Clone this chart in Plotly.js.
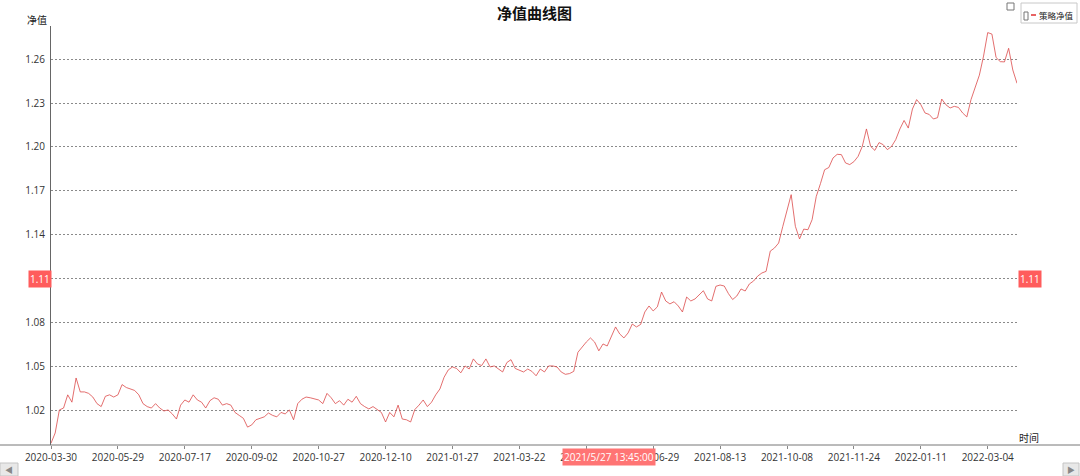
<!DOCTYPE html>
<html><head><meta charset="utf-8">
<script src="https://cdn.plot.ly/plotly-3.0.1.min.js"></script>
<style>html,body{margin:0;padding:0;background:#fff;}#chart{width:1080px;height:476px;}</style>
</head><body><div id="chart"></div>
<script>
const chartTitle = '净值曲线图';
const seriesName = '策略净值';
const yAxisName = '净值';
const xAxisName = '时间';
const navValues = [
  0.998, 1.005, 1.0207, 1.022, 1.031, 1.026, 1.0425, 1.033, 1.033, 1.032, 1.0295, 1.025, 1.023, 1.030, 1.031, 1.0295,
  1.031, 1.038, 1.036, 1.035, 1.034, 1.031, 1.025, 1.023, 1.022, 1.025, 1.022, 1.020, 1.0207, 1.018, 1.0145, 1.024,
  1.0275, 1.026, 1.031, 1.0275, 1.026, 1.022, 1.027, 1.029, 1.028, 1.024, 1.025, 1.024, 1.019, 1.017, 1.015, 1.009,
  1.0105, 1.014, 1.015, 1.016, 1.0186, 1.017, 1.016, 1.019, 1.018, 1.0207, 1.014, 1.025, 1.028, 1.0295, 1.029, 1.028,
  1.0275, 1.025, 1.032, 1.029, 1.025, 1.027, 1.024, 1.028, 1.026, 1.030, 1.025, 1.023, 1.0214, 1.023, 1.021, 1.019,
  1.0125, 1.019, 1.016, 1.024, 1.0145, 1.014, 1.0125, 1.021, 1.024, 1.0275, 1.023, 1.026, 1.031, 1.035, 1.043, 1.048,
  1.050, 1.049, 1.046, 1.0507, 1.0486, 1.0555, 1.052, 1.051, 1.0555, 1.050, 1.0507, 1.0486, 1.0466, 1.053, 1.055, 1.049,
  1.048, 1.0466, 1.0486, 1.047, 1.044, 1.0486, 1.0466, 1.0507, 1.0507, 1.050, 1.0466, 1.045, 1.0455, 1.047, 1.060, 1.0636,
  1.067, 1.0698, 1.067, 1.061, 1.0657, 1.0643, 1.0705, 1.0773, 1.0725, 1.0698, 1.0732, 1.0793, 1.0773, 1.079, 1.0875, 1.0916,
  1.0882, 1.091, 1.1011, 1.095, 1.093, 1.0945, 1.0916, 1.0875, 1.0977, 1.095, 1.0964, 1.099, 1.102, 1.0964, 1.095, 1.105,
  1.1059, 1.1052, 1.100, 1.096, 1.0984, 1.1032, 1.1018, 1.1066, 1.1086, 1.112, 1.1141, 1.1152, 1.129, 1.1311, 1.1345, 1.1459,
  1.1572, 1.1675, 1.1459, 1.1373, 1.144, 1.1436, 1.1504, 1.1663, 1.175, 1.1845, 1.186, 1.1925, 1.195, 1.1948, 1.1891, 1.188,
  1.190, 1.1936, 1.2004, 1.2123, 1.2004, 1.1977, 1.203, 1.2016, 1.1982, 1.2004, 1.205, 1.2123, 1.2181, 1.2129, 1.2259, 1.2323,
  1.2289, 1.2232, 1.2222, 1.2191, 1.220, 1.2327, 1.2288, 1.2266, 1.2277, 1.227, 1.2232, 1.2205, 1.2323, 1.240, 1.249, 1.262,
  1.278, 1.277, 1.261, 1.2582, 1.258, 1.2673, 1.2525, 1.2434
];
const tickDates = ['2020-03-30','2020-05-29','2020-07-17','2020-09-02','2020-10-27','2020-12-10','2021-01-27','2021-03-22','2021-05-11','2021-06-29','2021-08-13','2021-10-08','2021-11-24','2022-01-11','2022-03-04'];
const pointsPerTick = 16;
const yTicks = [1.02, 1.05, 1.08, 1.11, 1.14, 1.17, 1.20, 1.23, 1.26];
const crossValue = 1.11;
const crossIndex = 133.4;
const crossTimeLabel = '2021/5/27 13:45:00';

const W = 1080, H = 476, L = 51, R = 1017, T = 26, B = 445;
const px = v => (v - L) / (R - L);
const py = v => (B - v) / (B - T);

const xIdx = navValues.map((_, i) => i);
const tickIdx = tickDates.map((_, i) => i * pointsPerTick);
const font = "'Open Sans','Noto Sans CJK SC',sans-serif";
const cjk = "'Noto Sans CJK SC','Noto Sans',sans-serif";
const red = '#ff5c5c';

const trace = {
  x: xIdx, y: navValues, type: 'scatter', mode: 'lines', name: seriesName,
  line: {color: '#dc4a4a', width: 0.8}, hoverinfo: 'skip'
};

const shapes = [
  {type:'line', xref:'paper', yref:'paper', x0: px(0), x1: px(W), y0: 0, y1: 0, line:{color:'#777', width:1}},
  {type:'rect', xref:'paper', yref:'paper', x0: px(1021), x1: px(1077), y0: py(3), y1: py(23), line:{color:'#c8c8c8', width:1}, fillcolor:'#fff'},
  {type:'rect', xref:'paper', yref:'paper', x0: px(1024), x1: px(1028), y0: py(12), y1: py(20), line:{color:'#777', width:1}, fillcolor:'#fff'},
  {type:'line', xref:'paper', yref:'paper', x0: px(1031), x1: px(1036), y0: py(15), y1: py(15), line:{color:'#e03030', width:1.5}},
  {type:'rect', xref:'paper', yref:'paper', x0: px(1007), x1: px(1014), y0: py(3), y1: py(10), line:{color:'#777', width:1}, fillcolor:'#fff'},
  {type:'rect', xref:'paper', yref:'paper', x0: px(0), x1: px(18), y0: py(463), y1: py(476), line:{color:'#c4c4c4', width:1}, fillcolor:'#e8e8e8'},
  {type:'rect', xref:'paper', yref:'paper', x0: px(1063), x1: px(1079), y0: py(463), y1: py(476), line:{color:'#c4c4c4', width:1}, fillcolor:'#e8e8e8'}
];

const annotations = [
  {xref:'paper', yref:'paper', x: 0.5, y: py(13), text: '<b>' + chartTitle + '</b>', showarrow:false, font:{family: cjk, size: 15, color:'#111'}, xanchor:'center', yanchor:'middle'},
  {xref:'paper', yref:'paper', x: px(49), y: py(20), text: yAxisName, showarrow:false, font:{family: cjk, size: 10, color:'#222'}, xanchor:'right', yanchor:'middle'},
  {xref:'paper', yref:'paper', x: px(1029), y: py(437), text: xAxisName, showarrow:false, font:{family: cjk, size: 10, color:'#222'}, xanchor:'center', yanchor:'middle'},
  {xref:'paper', yref:'paper', x: px(1037), y: py(15), text: seriesName, showarrow:false, font:{family: cjk, size: 8.5, color:'#222'}, xanchor:'left', yanchor:'middle'},
  {xref:'paper', yref:'y', x: 0, y: crossValue, text: crossValue.toFixed(2), showarrow:false, font:{family: font, size: 10, color:'#fff'}, bgcolor: red, xanchor:'right', yanchor:'middle', borderpad: 1, xshift: 1},
  {xref:'paper', yref:'y', x: 1, y: crossValue, text: crossValue.toFixed(2), showarrow:false, font:{family: font, size: 10, color:'#fff'}, bgcolor: red, xanchor:'left', yanchor:'middle', borderpad: 1, xshift: 1},
  {xref:'x', yref:'paper', x: crossIndex, y: py(448), text: crossTimeLabel, showarrow:false, font:{family: font, size: 10, color:'#fff'}, bgcolor: '#ff7474', xanchor:'center', yanchor:'top', borderpad: 1},
  {xref:'paper', yref:'paper', x: px(9), y: py(469.5), text: '◀', showarrow:false, font:{family: font, size: 8, color:'#888'}, xanchor:'center', yanchor:'middle'},
  {xref:'paper', yref:'paper', x: px(1071), y: py(469.5), text: '▶', showarrow:false, font:{family: font, size: 8, color:'#888'}, xanchor:'center', yanchor:'middle'}
];

const layout = {
  width: W, height: H,
  margin: {l: L, r: W - R, t: T, b: H - B, pad: 0},
  paper_bgcolor: '#fff', plot_bgcolor: '#fff',
  showlegend: false,
  font: {family: font, size: 10, color: '#333'},
  xaxis: {
    range: [0, navValues.length - 1], tickvals: tickIdx, ticktext: tickDates,
    showgrid: false, zeroline: false, showline: false,
    ticks: 'outside', ticklen: 3, tickcolor: '#888',
    tickfont: {family: font, size: 10, color: '#333'}, fixedrange: true
  },
  yaxis: {
    range: [0.9968, 1.2825], tickvals: yTicks,
    ticktext: yTicks.map(v => Math.abs(v - crossValue) < 1e-9 ? '' : v.toFixed(2)),
    showgrid: true, gridcolor: '#8a8a8a', griddash: '2px,2px', gridwidth: 1,
    zeroline: false, showline: true, linecolor: '#666', linewidth: 1,
    ticks: '', ticklabelstandoff: 3,
    tickfont: {family: font, size: 10, color: '#333'}, fixedrange: true
  },
  shapes: shapes,
  annotations: annotations
};

Plotly.newPlot('chart', [trace], layout, {displayModeBar: false, staticPlot: true});
</script>
</body></html>
